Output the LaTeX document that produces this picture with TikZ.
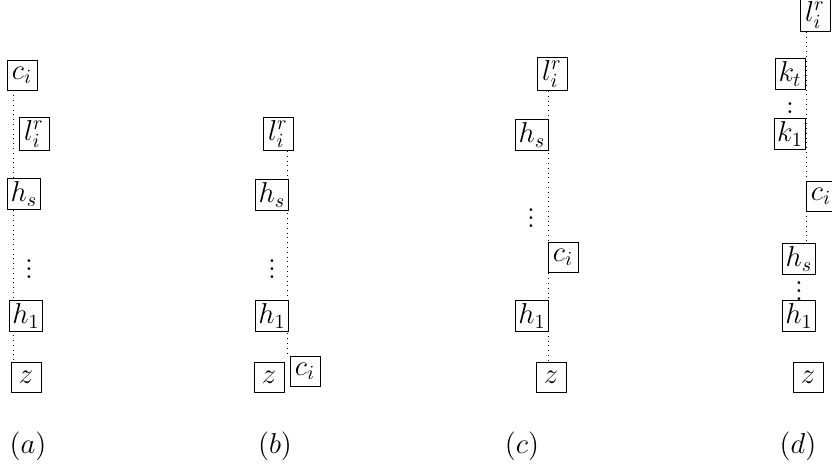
\documentclass[tikz,border=0pt]{standalone}
\usetikzlibrary{backgrounds}
\begin{document}
\begin{tikzpicture}[
  x=0.5pt, y=-0.5pt,
  font=\Large,
  var/.style={draw, fill=white, minimum size=15pt, inner sep=1.5pt},
  ellip/.style={inner sep=0pt},
  trace/.style={dotted},
  lbl/.style={inner sep=0pt},
]
\useasboundingbox (0,0) rectangle (832,472);
% (a)
\node[var] (ac) at (22,75) {$c_i$};
\node[var] (al) at (34,134) {$l_i^r$};
\node[var] (ahs) at (24,194) {$h_s$};
\node[ellip] (adots) at (29,263) {$\vdots$};
\node[var] (ah1) at (26,316) {$h_1$};
\node[var] (az) at (26,377) {$z$};
\coordinate (ax) at (13,0);
\node[lbl] (alab) at (28,446) {$(a)$};
% (b)
\node[var] (bl) at (278,134) {$l_i^r$};
\node[var] (bhs) at (272,195) {$h_s$};
\node[ellip] (bdots) at (272,263) {$\vdots$};
\node[var] (bh1) at (272,316) {$h_1$};
\node[var] (bz) at (269,377) {$z$};
\node[var] (bc) at (305,371) {$c_i$};
\coordinate (bx) at (287,0);
\node[lbl] (blab) at (275,446) {$(b)$};
% (c)
\node[var] (cl) at (552,74) {$l_i^r$};
\node[var] (chs) at (532,135) {$h_s$};
\node[ellip] (cdots) at (531,212) {$\vdots$};
\node[var] (cc) at (563,257) {$c_i$};
\node[var] (ch1) at (532,316) {$h_1$};
\node[var] (cz) at (551,377) {$z$};
\coordinate (cx) at (548,0);
\node[lbl] (clab) at (522,446) {$(c)$};
% (d)
\node[var] (dl) at (815,15) {$l_i^r$};
\node[var] (dkt) at (790,74) {$k_t$};
\node[ellip] (ddots1) at (790,106) {$\vdots$};
\node[var] (dk1) at (790,134) {$k_1$};
\node[var] (dc) at (821,196) {$c_i$};
\node[var] (dhs) at (799,259) {$h_s$};
\node[ellip] (ddots2) at (799,285) {$\vdots$};
\node[var] (dh1) at (799,316) {$h_1$};
\node[var] (dz) at (808,377) {$z$};
\coordinate (dx) at (806,0);
\node[lbl] (dlab) at (798,446) {$(d)$};
\begin{scope}[on background layer]
\draw[trace] (ac.south -| ax) -- (az.north -| ax);
\draw[trace] (bl.south -| bx) -- (bc.north -| bx);
\draw[trace] (cl.south -| cx) -- (cz.north -| cx);
\draw[trace] (dl.south -| dx) -- (dc.north -| dx);
\draw[trace] (dc.south -| dx) -- (dhs.north -| dx);
\end{scope}
\end{tikzpicture}
\end{document}
